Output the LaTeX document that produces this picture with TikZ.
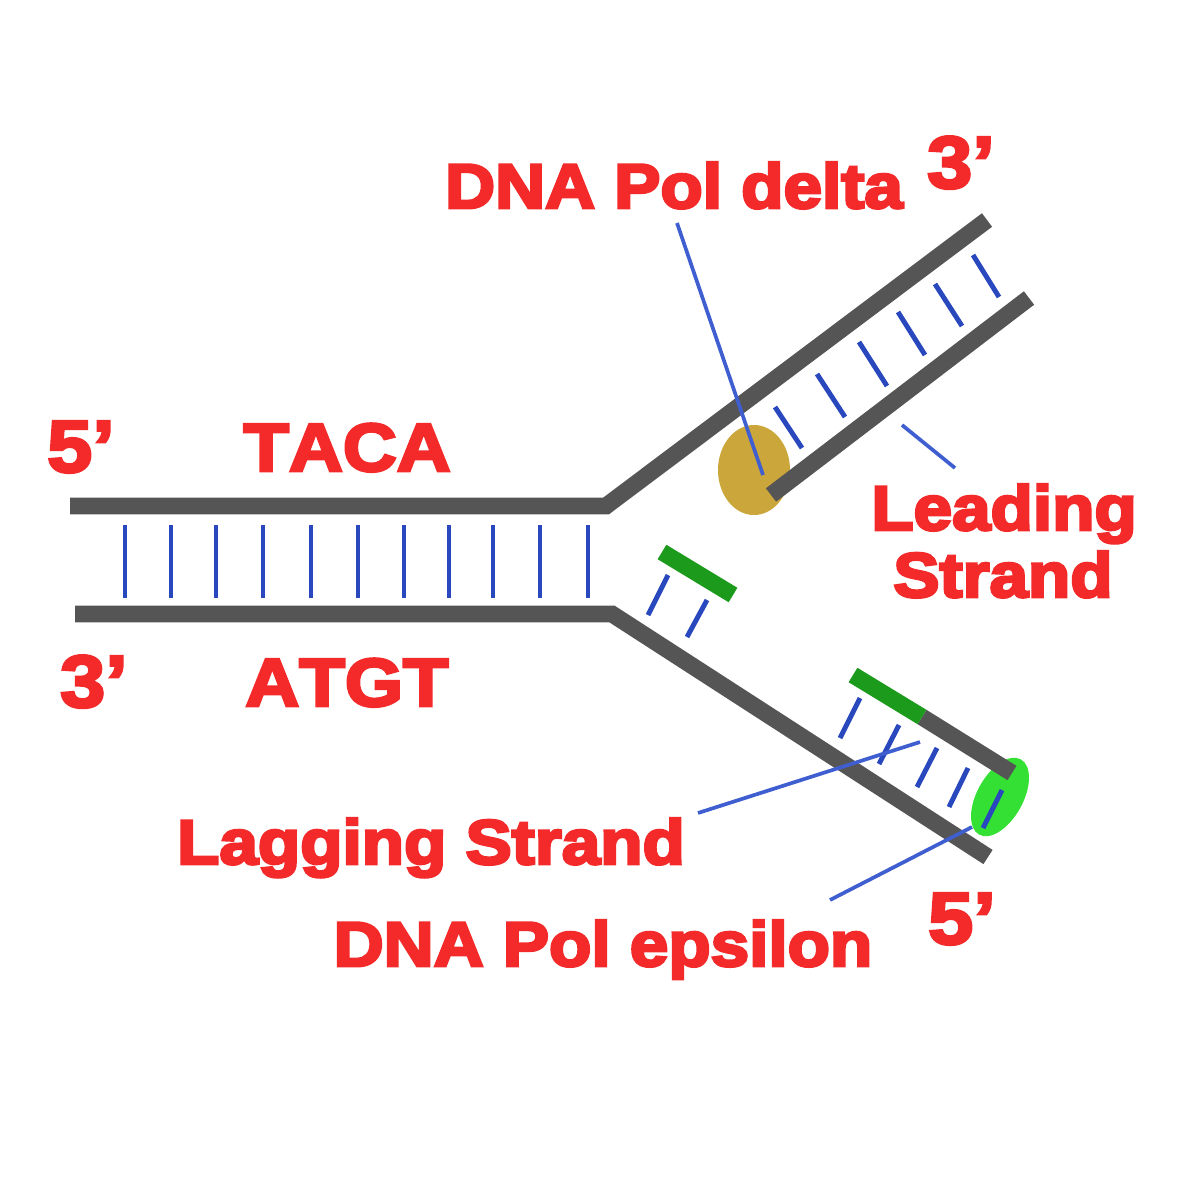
\documentclass[tikz,border=0pt]{standalone}
\usepackage{fontspec}
\newfontfamily\lab[Kerning=Off,FakeStretch=1.10]{Liberation Sans Bold}
\newcommand{\mylabfont}{\lab\fontsize{17.9}{20}\selectfont}
\newcommand{\mybigfont}{\lab\fontsize{19.3}{22}\selectfont}
\newcommand{\myendfont}{\lab\fontsize{21}{24}\selectfont}
\newcommand{\heavy}[1]{\special{pdf:literal direct 2 Tr 0.8 w}#1\special{pdf:literal direct 0 Tr}}
\definecolor{txt}{HTML}{F42A2A}
\definecolor{strandgray}{HTML}{555555}
\definecolor{rungblue}{HTML}{2A48BE}
\definecolor{ptrblue}{HTML}{3F5FD0}
\definecolor{primergreen}{HTML}{1C9A1C}
\definecolor{polgreen}{HTML}{33E033}
\definecolor{pololive}{HTML}{CBA63A}
\begin{document}
\begin{tikzpicture}[x=0.01cm,y=-0.01cm,
  strandline/.style={line width=4.8pt, draw=strandgray, line join=miter, line cap=butt},
  primer/.style={line width=4.8pt, draw=primergreen, line cap=butt},
  rung/.style={line width=1.4pt, draw=rungblue},
  pointer/.style={line width=1.05pt, draw=ptrblue},
  lbl/.style={text=txt, font=\mylabfont, anchor=base, inner sep=0pt},
  biglbl/.style={text=txt, font=\mybigfont, anchor=base, inner sep=0pt},
  endlbl/.style={text=txt, font=\myendfont, anchor=base, inner sep=0pt}]
\fill[white] (0,0) rectangle (1200,1200);
\useasboundingbox (0,0) rectangle (1200,1200);

% polymerases
\fill[pololive] (754,470) ellipse [x radius=36, y radius=45];
\fill[polgreen, shift={(1000,797)}, rotate=61] (0,0) ellipse [x radius=43, y radius=23];

% strand coordinates
\coordinate (t1) at (70,506);
\coordinate (t2) at (606,506);
\coordinate (t3) at (987,220);
\coordinate (b1) at (75,614);
\coordinate (b2) at (612,614);
\coordinate (b3) at (988,857);
\coordinate (l1) at (771,495);
\coordinate (l2) at (1029,298);
\coordinate (p1) at (662,552);
\coordinate (p2) at (733,595);
\coordinate (q1) at (853,675);
\coordinate (q2) at (922,717);
\coordinate (q3) at (1012,773);

% strands
\draw[strandline] (t1) -- (t2) -- (t3);
\draw[strandline] (b1) -- (b2) -- (b3);
\draw[strandline] (l1) -- (l2);
\draw[strandline] (q2) -- (q3);
\draw[primer] (p1) -- (p2);
\draw[primer] (q1) -- (q2);

% rungs of the parent duplex
\foreach \x in {125,171,216,263,311,358,404,449,493,540,588}
  \draw[rung] (\x,525) -- (\x,598);
% rungs of the leading strand
\foreach \a/\b/\c/\d in {775/407/802/448, 817/374/845/417, 859/342/887/386,
                         898/312/925/355, 935/284/962/326, 973/255/999/297}
  \draw[rung] (\a,\b) -- (\c,\d);
% rungs of the lagging strand
\foreach \a/\b/\c/\d in {648/615/668/575, 687/637/707/600,
                         840/738/860/698, 879/764/899/725, 917/787/937/748,
                         949/807/968/768, 983/828/1002/790}
  \draw[rung] (\a,\b) -- (\c,\d);

% labels
\node[endlbl] (five1) at (81,472) {\heavy{5’}};
\node[biglbl] (taca) at (347,471) {\heavy{TACA}};
\node[endlbl] (three1) at (94,707) {\heavy{3’}};
\node[biglbl] (atgt) at (347,706) {\heavy{ATGT}};
\node[lbl] (delta) at (674,208) {\heavy{DNA Pol delta}};
\node[endlbl] (three2) at (961,188) {\heavy{3’}};
\node[lbl] (leading) at (1004,530) {\heavy{Leading}};
\node[lbl] (strand) at (1003,597) {\heavy{Strand}};
\node[lbl] (lagging) at (431,864) {\heavy{Lagging Strand}};
\node[lbl] (epsilon) at (603,966) {\heavy{DNA Pol epsilon}};
\node[endlbl] (five2) at (962,944) {\heavy{5’}};

% pointer lines
\coordinate (dA) at (677,223);
\coordinate (dB) at (763,475);
\coordinate (lsA) at (902,425);
\coordinate (lsB) at (955,468);
\coordinate (lgA) at (698,813);
\coordinate (lgB) at (920,742);
\coordinate (eA) at (830,900);
\coordinate (eB) at (972,827);
\draw[pointer] (dA) -- (dB);
\draw[pointer] (lsA) -- (lsB);
\draw[pointer] (lgA) -- (lgB);
\draw[pointer] (eA) -- (eB);
\end{tikzpicture}
\end{document}
